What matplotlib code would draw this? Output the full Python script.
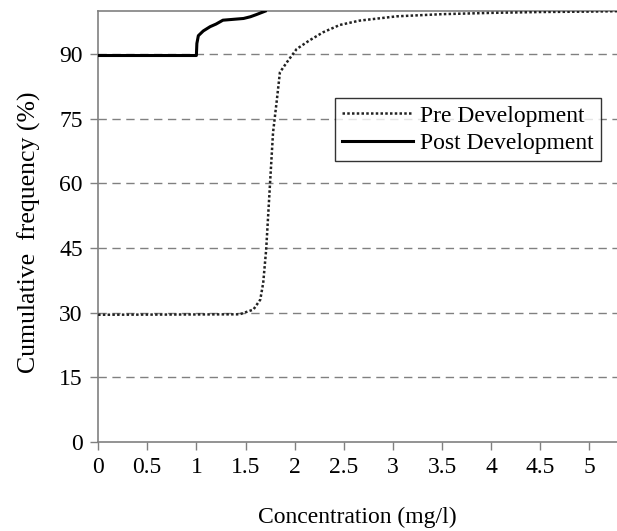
import matplotlib
matplotlib.use("Agg")
import matplotlib.pyplot as plt

pre_x = [0.0, 1.44, 1.58, 1.65, 1.68, 1.71, 1.75, 1.78, 1.82, 1.85, 1.92, 2.02, 2.15, 2.29, 2.46, 2.66, 3.04, 3.5, 4.0, 4.5, 5.0, 5.3]
pre_y = [29.5, 29.6, 30.7, 33.0, 36.9, 44.6, 60.2, 71.8, 79.6, 85.8, 88.1, 91.2, 93.2, 95.1, 96.8, 97.8, 98.8, 99.3, 99.6, 99.8, 99.9, 100.0]

post_x = [0.0, 1.0, 1.005, 1.02, 1.07, 1.14, 1.2, 1.27, 1.48, 1.55, 1.61, 1.70]
post_y = [89.7, 89.7, 92.5, 94.3, 95.4, 96.4, 97.0, 97.9, 98.3, 98.7, 99.2, 100.0]

x_ticks = [0, 0.5, 1, 1.5, 2, 2.5, 3, 3.5, 4, 4.5, 5]
x_tick_labels = ["0", "0.5", "1", "1.5", "2", "2.5", "3", "3.5", "4", "4.5", "5"]
y_ticks = [0, 15, 30, 45, 60, 75, 90]

plt.rcParams['font.family'] = ['Liberation Serif', 'DejaVu Serif']

fig = plt.figure(figsize=(6.17, 5.31), dpi=100)
ax = fig.add_axes([0.159, 0.168, 0.841, 0.811])

for yv in y_ticks[1:]:
    ax.axhline(yv, color='#808080', lw=1, ls=(0, (6, 4)), zorder=1)

ax.plot(pre_x, pre_y, color='#222222', lw=1.8, ls=(0, (1, 0.9)), label='Pre Development', zorder=3)
ax.plot(post_x, post_y, color='black', lw=2.2, ls='-', label='Post Development', zorder=3)

ax.set_xlim(0, 5.28)
ax.set_ylim(0, 100)
ax.set_xticks(x_ticks)
ax.set_xticklabels(x_tick_labels)
ax.set_yticks(y_ticks)
ax.tick_params(axis='both', labelsize=17, direction='out', length=6, color='#808080', width=1, pad=5)

for s in ['left', 'bottom', 'top']:
    ax.spines[s].set_color('#808080')
    ax.spines[s].set_linewidth(1.2)
ax.spines['right'].set_visible(False)

ax.set_xlabel('Concentration (mg/l)', fontsize=17, labelpad=21)
ax.set_ylabel('Cumulative  frequency (%)', fontsize=18.5)
ax.yaxis.set_label_coords(-0.111, 0.487)

leg = ax.legend(loc='upper left', bbox_to_anchor=(0.457, 0.798), fontsize=17, frameon=True,
                fancybox=False, edgecolor='black', handlelength=3.0, handletextpad=0.3,
                borderpad=0.3, labelspacing=0.25, borderaxespad=0)
leg.get_frame().set_linewidth(1.0)

fig.savefig('out.png', dpi=100)
